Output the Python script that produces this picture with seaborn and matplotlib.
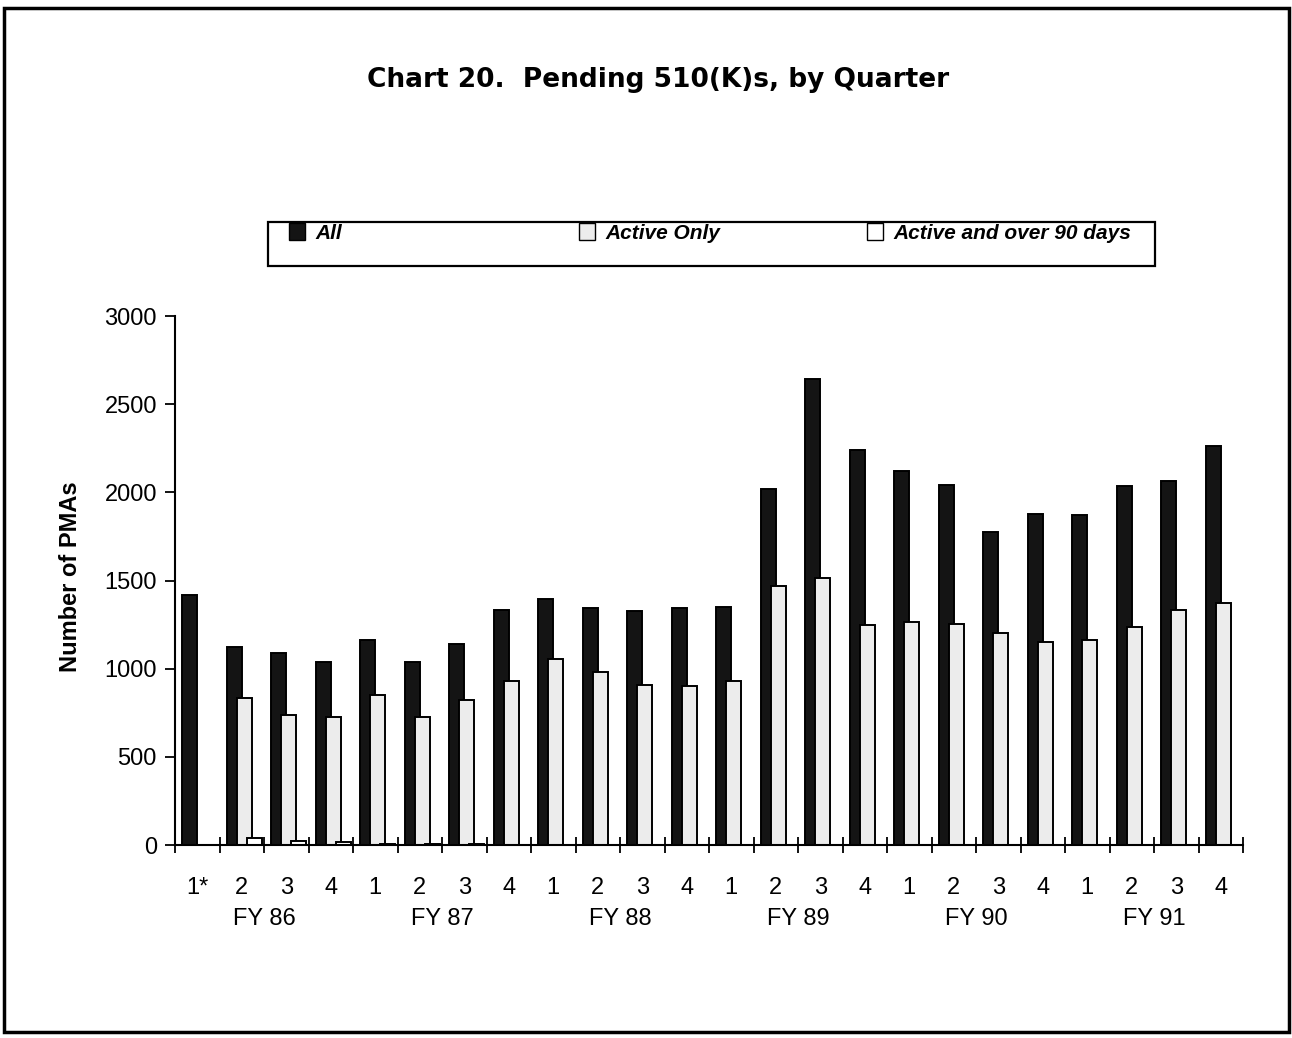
import pandas as pd
import matplotlib.pyplot as plt
import matplotlib.patches as mpatches
import matplotlib.transforms as mtrans
import seaborn as sns

# Quarters FY86..FY91
quarter_labels = ['1*', '2', '3', '4', '1', '2', '3', '4', '1', '2', '3', '4',
                  '1', '2', '3', '4', '1', '2', '3', '4', '1', '2', '3', '4']
fiscal_years = ['FY 86', 'FY 87', 'FY 88', 'FY 89', 'FY 90', 'FY 91']
series_names = ['All', 'Active Only', 'Active and over 90 days']

all_pending = [1415, 1125, 1090, 1040, 1160, 1040, 1140, 1335,
               1395, 1345, 1325, 1345, 1350, 2020, 2645, 2240,
               2120, 2040, 1775, 1875, 1870, 2035, 2065, 2265]
active_only = [0, 835, 735, 728, 850, 725, 820, 930,
               1055, 980, 905, 900, 930, 1470, 1515, 1250,
               1265, 1255, 1200, 1150, 1160, 1235, 1330, 1370]
active_over_90 = [0, 40, 25, 15, 5, 3, 3, 0,
                  0, 0, 0, 0, 0, 0, 0, 0,
                  0, 0, 0, 0, 0, 0, 0, 0]

n = len(quarter_labels)
df = pd.DataFrame({
    'q': list(range(n)) * 3,
    'value': all_pending + active_only + active_over_90,
    'series': [series_names[0]] * n + [series_names[1]] * n + [series_names[2]] * n,
})

colors = {'All': '#141414', 'Active Only': '#ececec', 'Active and over 90 days': '#ffffff'}

sns.set_theme(style='white')
plt.rcParams['font.family'] = ['Liberation Sans', 'DejaVu Sans']
plt.rcParams['text.color'] = 'black'
plt.rcParams['axes.labelcolor'] = 'black'
plt.rcParams['xtick.color'] = 'black'
plt.rcParams['ytick.color'] = 'black'

fig = plt.figure(figsize=(12.92, 10.38), dpi=100)
ax = fig.add_axes([175 / 1292, 1 - 845 / 1038, 1068 / 1292, 529 / 1038])

sns.barplot(data=df, x='q', y='value', hue='series', hue_order=series_names,
            palette=colors, width=0.67, edgecolor='black', linewidth=1.4,
            legend=False, ax=ax, native_scale=True)

# bars in the original overlap a little: widen them, keep left edges
for p in ax.patches:
    p.set_width(0.335)

ax.set_xlim(-0.5, n - 0.5)
ax.set_ylim(0, 3000)
ax.set_yticks(range(0, 3001, 500))
ax.tick_params(axis='y', direction='out', length=7, width=1.3, color='black',
               labelcolor='black', labelsize=17, pad=6, left=True)
ax.set_xticks(range(n))
ax.set_xticklabels(quarter_labels)
ax.tick_params(axis='x', which='major', length=0, labelsize=17, pad=23, labelcolor='black')
ax.set_xticks([i - 0.5 for i in range(n + 1)], minor=True)
ax.tick_params(axis='x', which='minor', direction='inout', length=12, width=1.3,
               color='black', bottom=True)

sns.despine(ax=ax)
for side in ['left', 'bottom']:
    ax.spines[side].set_color('black')
    ax.spines[side].set_linewidth(1.5)

ax.set_xlabel('')
ax.set_ylabel('Number of PMAs', fontsize=17, fontweight='bold', color='black')
ax.yaxis.set_label_coords(-0.087, 0.507)

# fiscal year labels under quarters 2 and 3
trans = mtrans.blended_transform_factory(ax.transData, ax.transAxes)
for k, fy in enumerate(fiscal_years):
    ax.text(1.5 + 4 * k, -0.139, fy, transform=trans, ha='center', va='center',
            fontsize=17, color='black')

fig.text(0.509, 1 - 80 / 1038, 'Chart 20.  Pending 510(K)s, by Quarter',
         ha='center', va='center', fontsize=19, fontweight='bold',
         family=['DejaVu Sans'], color='black')

# legend: a framed strip with three entries
fig.patches.append(mpatches.Rectangle((268 / 1292, 1 - 266 / 1038), 887 / 1292, 44 / 1038,
                                      transform=fig.transFigure, fill=False,
                                      edgecolor='black', linewidth=1.6))
legend_x = [289, 579, 867]
for s, x0 in zip(series_names, legend_x):
    h = mpatches.Patch(facecolor=colors[s], edgecolor='black', linewidth=1.0, label=s)
    lg = fig.legend(handles=[h], loc='center left', bbox_to_anchor=(x0 / 1292, 1 - 233 / 1038),
                    frameon=False, borderpad=0, borderaxespad=0,
                    handlelength=0.75, handleheight=0.85, handletextpad=0.5,
                    prop={'style': 'italic', 'weight': 'bold', 'size': 15})
    for t in lg.get_texts():
        t.set_color('black')

# outer frame of the page
fig.patches.append(mpatches.Rectangle((4 / 1292, 1 - 1032 / 1038), 1285 / 1292, 1024 / 1038,
                                      transform=fig.transFigure, fill=False,
                                      edgecolor='black', linewidth=2.5))

plt.savefig('out.png', dpi=100)
